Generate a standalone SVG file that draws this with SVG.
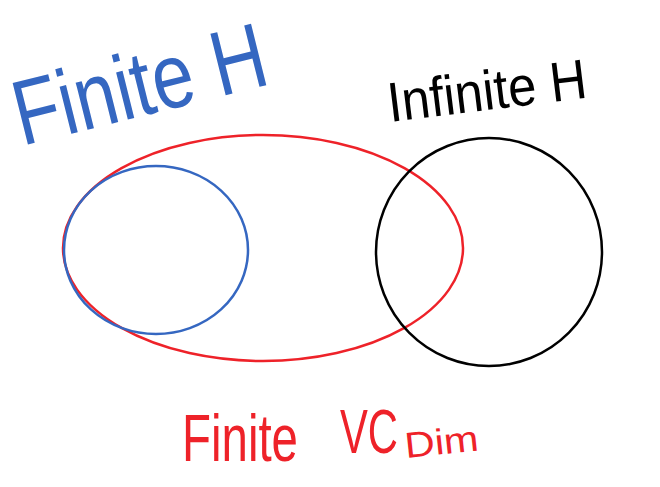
<svg xmlns="http://www.w3.org/2000/svg" width="660" height="487" viewBox="0 0 660 487">
<style>
.set{fill:none;stroke-width:2.5}
.lbl{font-family:"Liberation Sans",Arial,sans-serif;font-weight:normal}
</style>
<rect width="660" height="487" fill="#ffffff"/>
<g id="finite-vc-dim">
<ellipse class="set" cx="263" cy="248" rx="200" ry="113" stroke="#ee2229"/>
<g transform="translate(182,461) scale(1,1.45)"><text class="lbl" x="0" y="0" font-size="46" fill="#ee2229" textLength="116" lengthAdjust="spacingAndGlyphs">Finite</text></g>
<g transform="translate(340,453) scale(1,1.3)"><text class="lbl" x="0" y="0" font-size="48" fill="#ee2229" textLength="58" lengthAdjust="spacingAndGlyphs">VC</text></g>
<g transform="translate(406,458) rotate(-6)"><text class="lbl" x="0" y="0" font-size="36" fill="#ee2229" textLength="74" lengthAdjust="spacingAndGlyphs">Dim</text></g>
</g>
<g id="finite-h">
<ellipse class="set" cx="156" cy="250" rx="92" ry="84" stroke="#3567c1"/>
<g transform="translate(22,146) rotate(-14) scale(1,1.15)"><text class="lbl" x="0" y="0" font-size="80" fill="#3567c1" textLength="258" lengthAdjust="spacingAndGlyphs">Finite H</text></g>
</g>
<g id="infinite-h">
<ellipse class="set" cx="489" cy="252" rx="113" ry="114" stroke="#000000"/>
<g transform="translate(390,122) rotate(-7)"><text class="lbl" x="0" y="0" font-size="56" fill="#000000" textLength="200" lengthAdjust="spacingAndGlyphs">Infinite H</text></g>
</g>
<g id="connectors"/>
</svg>
